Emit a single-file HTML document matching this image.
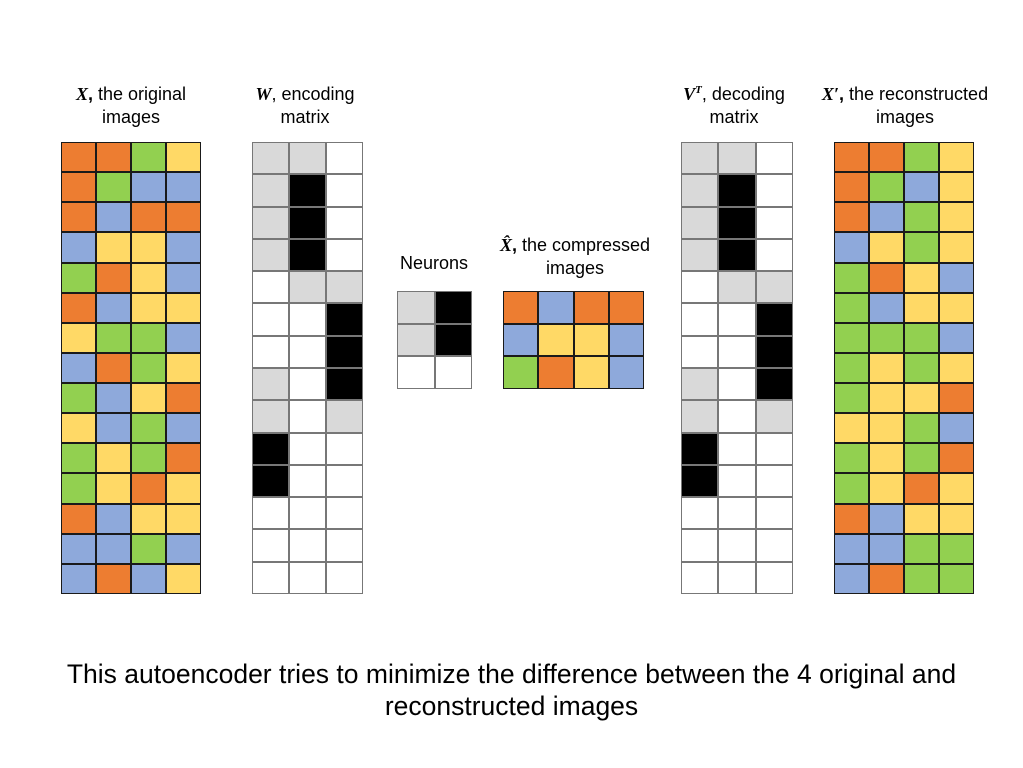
<!DOCTYPE html>
<html><head><meta charset="utf-8"><style>
body{margin:0;width:1023px;height:768px;background:#fff;position:relative;overflow:hidden;font-family:"Liberation Sans",Arial,sans-serif;color:#000}
.g{position:absolute;display:grid;gap:2px;padding:1px;background:#1a1a1a;box-sizing:border-box}
.g div{background:#fff}
.O{background:#ED7D31!important}.G{background:#92D050!important}.Y{background:#FFD966!important}.B{background:#8EA9DB!important}
.S{background:#d9d9d9!important}.K{background:#000!important}
.l{position:absolute;text-align:center;font-size:18px;line-height:23px;width:220px}
.m{font-family:"Liberation Serif",serif;font-weight:bold;font-style:italic}
.w{background:#777!important;gap:2px}
sup{font-size:11px;line-height:0;vertical-align:7px}
</style></head><body>
<div class="l" style="left:21px;top:83px"><span class="m">X</span><b>,</b> the original<br>images</div>
<div class="l" style="left:195px;top:83px"><span class="m">W</span>, encoding<br>matrix</div>
<div class="l" style="left:324px;top:252px">Neurons</div>
<div class="l" style="left:465px;top:234px"><span class="m">X̂</span><b>,</b> the compressed<br>images</div>
<div class="l" style="left:624px;top:83px"><span class="m">V<sup>T</sup></span>, decoding<br>matrix</div>
<div class="l" style="left:795px;top:83px"><span class="m">X′</span><b>,</b> the reconstructed<br>images</div>

<div class="g" style="left:61px;top:142px;width:140px;height:452px;grid-template-columns:repeat(4,1fr);grid-template-rows:repeat(15,1fr)">
<div class="O"></div><div class="O"></div><div class="G"></div><div class="Y"></div>
<div class="O"></div><div class="G"></div><div class="B"></div><div class="B"></div>
<div class="O"></div><div class="B"></div><div class="O"></div><div class="O"></div>
<div class="B"></div><div class="Y"></div><div class="Y"></div><div class="B"></div>
<div class="G"></div><div class="O"></div><div class="Y"></div><div class="B"></div>
<div class="O"></div><div class="B"></div><div class="Y"></div><div class="Y"></div>
<div class="Y"></div><div class="G"></div><div class="G"></div><div class="B"></div>
<div class="B"></div><div class="O"></div><div class="G"></div><div class="Y"></div>
<div class="G"></div><div class="B"></div><div class="Y"></div><div class="O"></div>
<div class="Y"></div><div class="B"></div><div class="G"></div><div class="B"></div>
<div class="G"></div><div class="Y"></div><div class="G"></div><div class="O"></div>
<div class="G"></div><div class="Y"></div><div class="O"></div><div class="Y"></div>
<div class="O"></div><div class="B"></div><div class="Y"></div><div class="Y"></div>
<div class="B"></div><div class="B"></div><div class="G"></div><div class="B"></div>
<div class="B"></div><div class="O"></div><div class="B"></div><div class="Y"></div>
</div>

<div class="g w" style="left:252px;top:142px;width:111px;height:452px;grid-template-columns:repeat(3,1fr);grid-template-rows:repeat(14,1fr)">
<div class="S"></div><div class="S"></div><div></div>
<div class="S"></div><div class="K"></div><div></div>
<div class="S"></div><div class="K"></div><div></div>
<div class="S"></div><div class="K"></div><div></div>
<div></div><div class="S"></div><div class="S"></div>
<div></div><div></div><div class="K"></div>
<div></div><div></div><div class="K"></div>
<div class="S"></div><div></div><div class="K"></div>
<div class="S"></div><div></div><div class="S"></div>
<div class="K"></div><div></div><div></div>
<div class="K"></div><div></div><div></div>
<div></div><div></div><div></div>
<div></div><div></div><div></div>
<div></div><div></div><div></div>
</div>

<div class="g w" style="left:397px;top:291px;width:75px;height:98px;grid-template-columns:repeat(2,1fr);grid-template-rows:repeat(3,1fr)">
<div class="S"></div><div class="K"></div>
<div class="S"></div><div class="K"></div>
<div></div><div></div>
</div>

<div class="g" style="left:503px;top:291px;width:141px;height:98px;grid-template-columns:repeat(4,1fr);grid-template-rows:repeat(3,1fr)">
<div class="O"></div><div class="B"></div><div class="O"></div><div class="O"></div>
<div class="B"></div><div class="Y"></div><div class="Y"></div><div class="B"></div>
<div class="G"></div><div class="O"></div><div class="Y"></div><div class="B"></div>
</div>

<div class="g w" style="left:681px;top:142px;width:112px;height:452px;grid-template-columns:repeat(3,1fr);grid-template-rows:repeat(14,1fr)">
<div class="S"></div><div class="S"></div><div></div>
<div class="S"></div><div class="K"></div><div></div>
<div class="S"></div><div class="K"></div><div></div>
<div class="S"></div><div class="K"></div><div></div>
<div></div><div class="S"></div><div class="S"></div>
<div></div><div></div><div class="K"></div>
<div></div><div></div><div class="K"></div>
<div class="S"></div><div></div><div class="K"></div>
<div class="S"></div><div></div><div class="S"></div>
<div class="K"></div><div></div><div></div>
<div class="K"></div><div></div><div></div>
<div></div><div></div><div></div>
<div></div><div></div><div></div>
<div></div><div></div><div></div>
</div>

<div class="g" style="left:834px;top:142px;width:140px;height:452px;grid-template-columns:repeat(4,1fr);grid-template-rows:repeat(15,1fr)">
<div class="O"></div><div class="O"></div><div class="G"></div><div class="Y"></div>
<div class="O"></div><div class="G"></div><div class="B"></div><div class="Y"></div>
<div class="O"></div><div class="B"></div><div class="G"></div><div class="Y"></div>
<div class="B"></div><div class="Y"></div><div class="G"></div><div class="Y"></div>
<div class="G"></div><div class="O"></div><div class="Y"></div><div class="B"></div>
<div class="G"></div><div class="B"></div><div class="Y"></div><div class="Y"></div>
<div class="G"></div><div class="G"></div><div class="G"></div><div class="B"></div>
<div class="G"></div><div class="Y"></div><div class="G"></div><div class="Y"></div>
<div class="G"></div><div class="Y"></div><div class="Y"></div><div class="O"></div>
<div class="Y"></div><div class="Y"></div><div class="G"></div><div class="B"></div>
<div class="G"></div><div class="Y"></div><div class="G"></div><div class="O"></div>
<div class="G"></div><div class="Y"></div><div class="O"></div><div class="Y"></div>
<div class="O"></div><div class="B"></div><div class="Y"></div><div class="Y"></div>
<div class="B"></div><div class="B"></div><div class="G"></div><div class="G"></div>
<div class="B"></div><div class="O"></div><div class="G"></div><div class="G"></div>
</div>

<div style="position:absolute;left:0;width:1023px;top:658px;text-align:center;font-size:26.5px;line-height:32px">This autoencoder tries to minimize the difference between the 4 original and<br>reconstructed images</div>
</body></html>
